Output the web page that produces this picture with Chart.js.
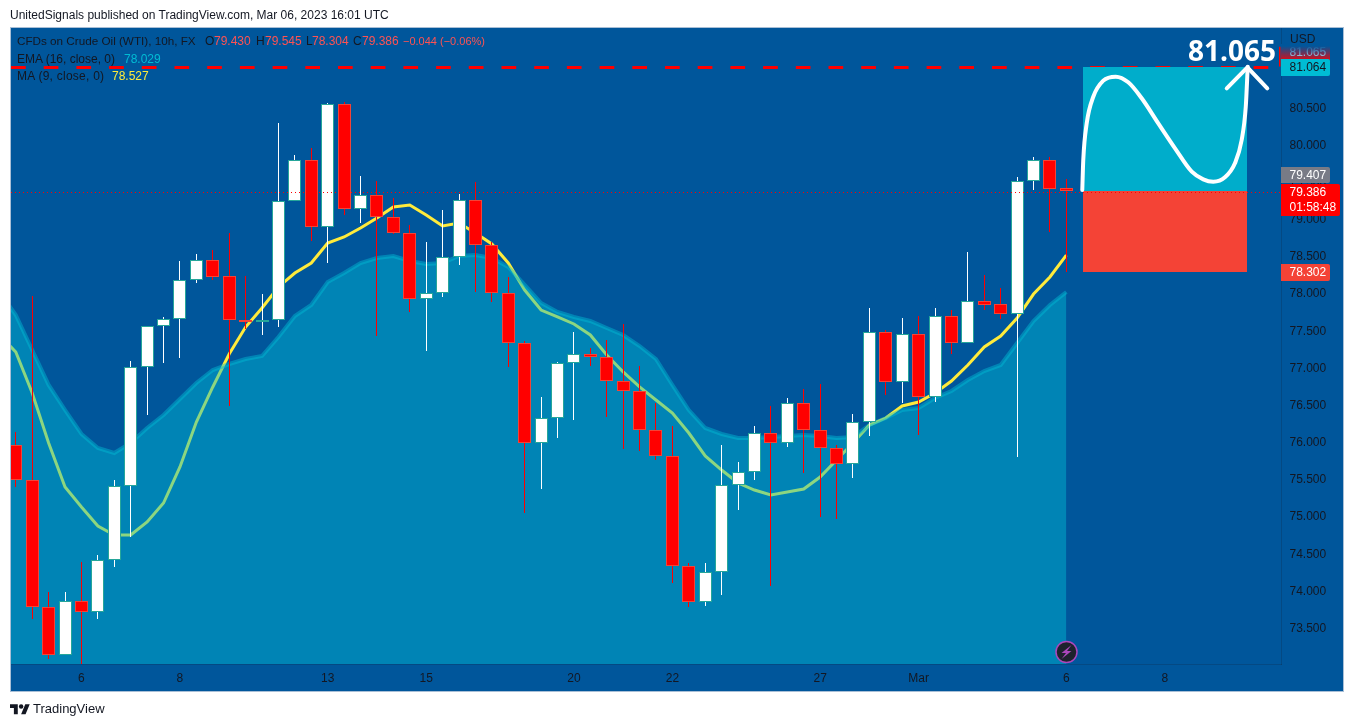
<!DOCTYPE html>
<html><head><meta charset="utf-8">
<style>
html,body{margin:0;padding:0;background:#fff;width:1354px;height:727px;overflow:hidden}
#wrap{position:relative;width:1354px;height:727px}
canvas{position:absolute;left:0;top:0}
.t{position:absolute;white-space:nowrap;font:12px "Liberation Sans",sans-serif;line-height:14px;color:#131722}
.r{color:#FF5252}
</style></head><body>
<div id="wrap">
<canvas id="c" width="1354" height="727"></canvas>
<div class="t" style="left:10px;top:8px;font-size:12px">UnitedSignals published on TradingView.com, Mar 06, 2023 16:01 UTC</div>
<div class="t" style="left:17px;top:34px;font-size:11.7px">CFDs on Crude Oil (WTI), 10h, FX</div>
<div class="t" style="left:205px;top:34px">O</div><div class="t r" style="left:214px;top:34px">79.430</div>
<div class="t" style="left:256px;top:34px">H</div><div class="t r" style="left:265px;top:34px">79.545</div>
<div class="t" style="left:306px;top:34px">L</div><div class="t r" style="left:312px;top:34px">78.304</div>
<div class="t" style="left:353px;top:34px">C</div><div class="t r" style="left:362px;top:34px">79.386</div>
<div class="t r" style="left:403px;top:34px;font-size:11px">−0.044 (−0.06%)</div>
<div class="t" style="left:17px;top:52px">EMA (16, close, 0)</div><div class="t" style="left:124px;top:52px;color:#00BCD4">78.029</div>
<div class="t" style="left:17px;top:69px;letter-spacing:.25px">MA (9, close, 0)</div><div class="t" style="left:112px;top:69px;color:#FFEB3B">78.527</div>
<svg style="position:absolute;left:10px;top:704px" width="20" height="11" viewBox="0 4 36 19"><path fill="#131722" d="M14 22H7V11H0V4h14v18zM28 22h-8l7.5-18h8L28 22z"/><circle fill="#131722" cx="20" cy="8" r="4"/></svg>
<div class="t" style="left:33px;top:702px;font-size:13px">TradingView</div>
</div>
<script src="https://cdn.jsdelivr.net/npm/chart.js@4"></script>
<script>
const opens  = [75.970,75.499,73.789,73.143,73.870,73.722,74.422,75.418,77.020,77.572,77.666,78.191,78.460,78.245,77.652,77.625,77.652,79.254,79.806,78.904,80.560,79.147,79.335,79.039,78.824,77.935,78.016,78.501,79.268,78.662,78.016,77.343,75.997,76.333,77.074,77.195,77.154,76.831,76.697,76.172,75.822,74.341,73.856,74.260,75.431,75.606,76.131,75.997,76.535,76.172,75.929,75.714,76.279,77.491,76.818,77.464,76.616,77.706,77.343,77.908,77.868,77.733,79.524,79.806,79.430];
const closes = [75.499,73.789,73.143,73.870,73.722,74.422,75.418,77.020,77.572,77.666,78.191,78.460,78.231,77.652,77.625,77.652,79.254,79.806,78.904,80.560,79.147,79.335,79.039,78.824,77.935,78.016,78.501,79.268,78.662,78.016,77.343,75.997,76.333,77.074,77.195,77.154,76.831,76.697,76.172,75.822,74.341,73.856,74.260,75.431,75.606,76.131,75.997,76.535,76.172,75.929,75.714,76.279,77.491,76.818,77.464,76.616,77.706,77.343,77.908,77.854,77.733,79.524,79.806,79.416,79.386];
const highs  = [76.145,77.976,73.991,73.991,74.395,74.489,75.499,77.101,77.572,77.693,78.447,78.541,78.595,78.824,78.245,78.002,80.304,79.874,79.968,80.574,80.587,79.591,79.524,79.295,78.931,78.702,79.133,79.349,79.510,78.702,78.231,77.370,76.616,77.087,77.491,77.276,77.383,77.599,77.033,76.535,76.226,74.381,74.381,75.970,75.741,76.226,76.495,76.603,76.724,76.791,75.970,76.387,77.814,77.518,77.679,77.706,77.814,77.787,78.568,78.258,78.083,79.577,79.847,79.847,79.545];
const lows   = [75.404,73.628,73.089,73.143,73.008,73.628,74.328,74.731,76.374,77.074,77.141,78.150,78.191,76.495,77.531,77.451,77.558,79.254,78.716,78.420,79.066,78.958,77.437,78.810,77.760,77.235,77.962,78.393,78.029,77.895,77.020,75.054,75.378,76.064,76.306,77.033,76.347,75.916,75.889,75.768,74.112,73.789,73.803,73.951,75.095,75.499,74.072,75.943,75.593,75.001,74.974,75.526,76.091,76.643,76.535,76.104,76.549,77.195,77.343,77.787,77.666,75.808,79.402,78.837,78.304];
// moving averages start one bar before the first visible candle
const maValues  = [77.450,77.222,76.670,75.997,75.404,75.135,74.880,74.758,74.758,74.933,75.189,75.674,76.279,76.751,77.195,77.558,77.814,78.097,78.285,78.420,78.689,78.770,78.891,79.026,79.174,79.200,79.066,78.918,78.958,78.824,78.676,78.420,78.056,77.787,77.693,77.599,77.451,77.181,76.953,76.751,76.576,76.401,76.131,75.822,75.633,75.458,75.364,75.297,75.337,75.378,75.539,75.768,75.997,76.239,76.333,76.495,76.549,76.670,76.831,77.047,77.289,77.437,77.679,78.002,78.231,78.527];
const emaValues = [78.029,77.720,77.249,76.778,76.441,76.118,75.929,75.862,75.997,76.199,76.374,76.589,76.804,76.979,77.060,77.127,77.168,77.424,77.706,77.854,78.164,78.285,78.420,78.487,78.514,78.447,78.406,78.420,78.514,78.527,78.487,78.366,78.124,77.881,77.760,77.693,77.639,77.545,77.451,77.302,77.127,76.778,76.441,76.199,76.118,76.064,76.064,76.077,76.091,76.104,76.091,76.064,76.077,76.239,76.333,76.441,76.468,76.603,76.697,76.845,76.966,77.047,77.343,77.639,77.854,78.029];
const xTickBars   = [4,10,19,25,34,40,49,55,64,70];
const xTickLabels = ['6','8','13','15','20','22','27','Mar','6','8'];
const priceTicks  = [73.5,74,74.5,75,75.5,76,76.5,77,77.5,78,78.5,79,79.5,80,80.5,81];
const targetPrice = 81.065, lastPrice = 79.386;
const tealBox = [79.386,81.064], redBox = [78.302,79.386], boxBar = 70;
const curveBars   = [64.97,65.03,65.24,65.64,66.25,67.01,67.77,68.59,69.60,70.62,71.64,72.34,72.95,73.66,74.27,74.68,74.93,75.05];
const curvePrices = [79.402,79.806,80.300,80.658,80.874,80.928,80.852,80.637,80.300,79.964,79.649,79.546,79.514,79.573,79.762,80.075,80.524,81.062];
const arrowBars   = [73.77,75.03,76.24];
const arrowPrices = [80.771,81.054,80.771];
const xMin=-0.2924, xMax=77.076, yMin=73.022, yMax=81.583;
const BG='#00569B';

const barIdx = opens.map((_,i)=>i);
const pts=(xs,ys)=>xs.map((x,i)=>({x,y:ys[i]}));
const isUp=i=>closes[i]>=opens[i];

const snapPlugin={id:'snap',afterDatasetsUpdate(chart){
  chart.data.datasets.forEach((ds,di)=>{
    const meta=chart.getDatasetMeta(di);
    if(ds.type==='line'){
      if(ds.snapY) meta.data.forEach(el=>{el.y=Math.floor(el.y)+1.5;});
      return;
    }
    meta.data.forEach(el=>{
      el.x= ds.snapRound? Math.round(el.x): Math.floor(el.x)+0.5;
      el.y=Math.round(el.y); el.base=Math.round(el.base);
    });
  });
}};
const framePlugin={id:'frame',beforeDraw(chart){
  const c=chart.ctx;c.save();
  c.fillStyle=BG;c.fillRect(10,27,1334,664);
  c.strokeStyle='#A9BFD6';c.lineWidth=1;c.strokeRect(10.5,27.5,1333,664);
  c.restore();
}};
function tag(c,y,w,h,color,lines,txt){
  c.fillStyle=color;c.beginPath();c.roundRect(1281,y,w,h,[0,2,2,0]);c.fill();
  c.fillStyle=txt;c.textBaseline='middle';c.textAlign='left';c.font='12px "Liberation Sans"';
  lines.forEach((s,i)=>c.fillText(s,1289.5,y+8.5+i*15.5));
}
const overlayPlugin={id:'overlay',afterDraw(chart){
  const c=chart.ctx,Y=chart.scales.y,X=chart.scales.x;c.save();
  // faded label behind the USD caption
  c.fillStyle='#FF0000';c.fillRect(1281,45,49,15);
  c.fillStyle='#FFFFFF';c.font='12px "Liberation Sans"';c.textBaseline='middle';c.textAlign='left';c.fillText('81.065',1289.5,53);
  const g=c.createLinearGradient(0,46,0,61);g.addColorStop(0,'rgba(0,86,155,1)');g.addColorStop(1,'rgba(0,86,155,.1)');
  c.fillStyle=g;c.fillRect(1281,44,49,17);
  c.fillStyle='#131722';c.fillText('USD',1290,40);
  tag(c,59,49,17,'#00BCD4',['81.064'],'#131722');
  tag(c,167,49,16,'#787B86',['79.407'],'#FFFFFF');
  tag(c,184,59,32,'#FF0000',['79.386','01:58:48'],'#FFFFFF');
  tag(c,264,49,17,'#F44336',['78.302'],'#FFFFFF');
  // target text
  c.fillStyle='#FFFFFF';c.font='bold 28px "Open Sans"';c.textAlign='center';c.textBaseline='middle';
  c.fillText('81.065',1232,53);
  // flash icon
  const ix=Math.floor(X.getPixelForValue(64))+0.5,iy=652;
  c.beginPath();c.arc(ix,iy,10.5,0,Math.PI*2);c.fillStyle='#1E222D';c.fill();c.lineWidth=1.5;c.strokeStyle='#AB47BC';c.stroke();
  c.beginPath();c.moveTo(ix+5,iy-7);c.lineTo(ix-5,iy+1);c.lineTo(ix-0.5,iy+1);c.lineTo(ix-5,iy+7);c.lineTo(ix+5,iy-1);c.lineTo(ix+0.5,iy-1);c.closePath();c.fillStyle='#AB47BC';c.fill();
  c.restore();
}};

new Chart(document.getElementById('c'),{
  type:'bar',
  data:{datasets:[
    {type:'line',order:0,snapY:true,data:pts([xMin,xMax],[lastPrice,lastPrice]),borderColor:'#FF0000',borderWidth:1,borderDash:[1,3],pointRadius:0},
    {type:'line',order:1,data:pts(curveBars,curvePrices),borderColor:'#FFFFFF',borderWidth:4,borderCapStyle:'round',cubicInterpolationMode:'monotone',pointRadius:0},
    {type:'line',order:1,data:pts(arrowBars,arrowPrices),borderColor:'#FFFFFF',borderWidth:4,borderCapStyle:'round',borderJoinStyle:'round',pointRadius:0},
    {type:'bar',order:2,snapRound:true,grouped:false,barThickness:164,inflateAmount:0,data:[{x:boxBar,y:tealBox}],backgroundColor:'#00ADCB',borderWidth:0},
    {type:'bar',order:2,snapRound:true,grouped:false,barThickness:164,inflateAmount:0,data:[{x:boxBar,y:redBox}],backgroundColor:'#F44336',borderWidth:0},
    {type:'line',order:3,snapY:true,data:pts([xMin,xMax],[targetPrice,targetPrice]),borderColor:'#FF0000',borderWidth:3,borderDash:[14.7,18],pointRadius:0},
    {type:'line',order:3,data:pts([77.0,77.0],[targetPrice,81.33]),borderColor:'#FF0000',borderWidth:1.5,pointRadius:0},
    {type:'bar',order:4,grouped:false,barThickness:13,inflateAmount:0,borderSkipped:false,borderWidth:1,
      data:barIdx.map(i=>({x:i,y:[opens[i],closes[i]]})),
      backgroundColor:barIdx.map(i=>isUp(i)?'#FFFFFF':'#FF0000'),
      borderColor:barIdx.map(i=>isUp(i)?'#26A69A':'#F44336')},
    {type:'bar',order:5,grouped:false,barThickness:1,inflateAmount:0,borderWidth:0,
      data:barIdx.map(i=>({x:i,y:[lows[i],highs[i]]})),
      backgroundColor:barIdx.map(i=>isUp(i)?'#FFFFFF':'#FF0000')},
    {type:'line',order:6,data:emaValues.map((v,i)=>({x:i-1,y:v})),borderColor:'rgba(0,188,212,.45)',borderWidth:4,
      fill:'start',backgroundColor:'rgba(0,188,212,.45)',pointRadius:0},
    {type:'line',order:7,data:maValues.map((v,i)=>({x:i-1,y:v})),borderColor:'#FFEB3B',borderWidth:3,pointRadius:0}
  ]},
  options:{
    responsive:false,maintainAspectRatio:false,animation:false,devicePixelRatio:1,
    layout:{padding:{left:11,top:28,right:10,bottom:36}},
    events:[],
    plugins:{legend:{display:false},tooltip:{enabled:false},title:{display:false}},
    scales:{
      x:{type:'linear',min:xMin,max:xMax,offset:false,
        grid:{display:false,drawTicks:false},border:{display:true,color:'rgba(19,23,34,.2)'},
        afterFit:s=>{s.height=27},
        afterBuildTicks:s=>{s.ticks=xTickBars.map(v=>({value:v}))},
        ticks:{autoSkip:false,maxRotation:0,padding:7,color:'#131722',font:{family:'"Liberation Sans"',size:12},callback:(v,i)=>xTickLabels[i]}},
      y:{type:'linear',position:'right',min:yMin,max:yMax,
        grid:{display:false,drawTicks:false},border:{display:true,color:'rgba(19,23,34,.2)'},
        afterFit:s=>{s.width=63},
        afterBuildTicks:s=>{s.ticks=priceTicks.map(v=>({value:v}))},
        ticks:{autoSkip:false,padding:8.5,color:'#131722',font:{family:'"Liberation Sans"',size:12},callback:v=>v.toFixed(3)}}
    }
  },
  plugins:[framePlugin,snapPlugin,overlayPlugin]
});
</script>
</body></html>
